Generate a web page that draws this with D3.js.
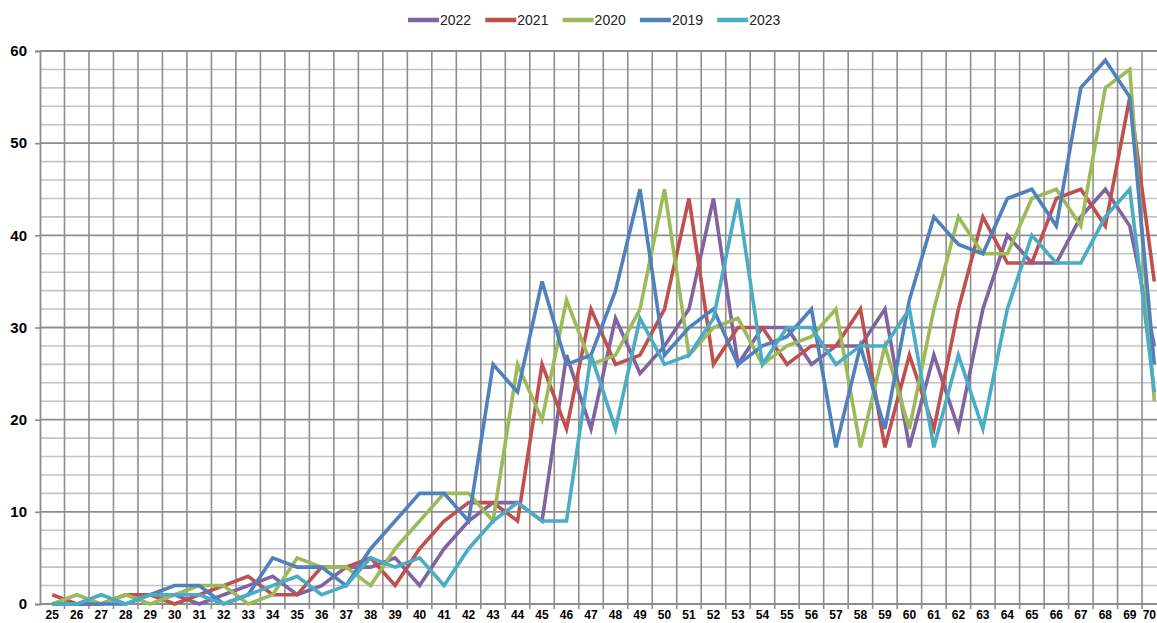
<!DOCTYPE html>
<html>
<head>
<meta charset="utf-8">
<script src="https://cdn.jsdelivr.net/npm/d3@7"></script>
<style>
  html, body { margin: 0; padding: 0; background: #fff; }
  svg { display: block; }
</style>
</head>
<body>
<svg id="chart" width="1157" height="623"></svg>
<script>
// Age categories on the x axis
const categories = [25,26,27,28,29,30,31,32,33,34,35,36,37,38,39,40,41,42,43,44,45,46,47,
                    48,49,50,51,52,53,54,55,56,57,58,59,60,61,62,63,64,65,66,67,68,69,70];

// Values per year
const values2022 = [0,0,0,1,1,1,0,1,2,3,1,2,4,4,5,2,6,9,11,11,9,27,19,31,25,28,32,44,26,30,30,26,28,28,32,17,27,19,32,40,37,37,42,45,41,28];
const values2021 = [1,0,0,1,1,0,1,2,3,1,1,4,4,5,2,6,9,11,11,9,26,19,32,26,27,32,44,26,30,30,26,28,28,32,17,27,19,32,42,37,37,44,45,41,55,35];
const values2020 = [0,1,0,1,0,1,2,2,0,1,5,4,4,2,6,9,12,12,9,26,20,33,26,27,32,45,27,30,31,26,28,29,32,17,28,19,32,42,38,38,44,45,41,56,58,22];
const values2019 = [0,0,0,0,1,2,2,0,1,5,4,4,2,6,9,12,12,9,26,23,35,26,27,34,45,27,30,32,26,28,29,32,17,28,19,33,42,39,38,44,45,41,56,59,55,26];
const values2023 = [0,0,1,0,1,1,1,0,1,2,3,1,2,5,4,5,2,6,9,11,9,9,27,19,31,26,27,31,44,26,30,30,26,28,28,32,17,27,19,32,40,37,37,42,45,23];

const seriesNames = ["2022","2021","2020","2019","2023"];
const seriesValues = [values2022, values2021, values2020, values2019, values2023];
const seriesColors = ["#8064A2","#C0504D","#9BBB59","#4F81BD","#4BACC6"];

const yTicks = [0,10,20,30,40,50,60];
const yMinor = [2,4,6,8,12,14,16,18,22,24,26,28,32,34,36,38,42,44,46,48,52,54,56,58];

const W = 1157;
const svg = d3.select("#chart");
const plotLeft = 40, plotTop = 51, plotBottom = 604;
const step = 24.49;
const plotRight = plotLeft + step * categories.length;

const x = d3.scaleBand().domain(categories).range([plotLeft, plotRight]).padding(0);
const y = d3.scaleLinear().domain([0, 60]).range([plotBottom, plotTop]);
const cx = c => x(c) + x.bandwidth() / 2;

const grid = svg.append("g");

// minor horizontal grid
grid.selectAll("line.minor").data(yMinor).enter().append("line")
  .attr("x1", plotLeft).attr("x2", W)
  .attr("y1", d => y(d)).attr("y2", d => y(d))
  .attr("stroke", "#c4c4c4").attr("stroke-width", 1.6);

// vertical grid at category boundaries, with ticks below the axis
grid.selectAll("line.v").data(categories.slice(1)).enter().append("line")
  .attr("x1", d => x(d)).attr("x2", d => x(d))
  .attr("y1", plotTop).attr("y2", plotBottom + 5)
  .attr("stroke", "#8e8e8e").attr("stroke-width", 1.6);

// major horizontal grid
grid.selectAll("line.major").data(yTicks).enter().append("line")
  .attr("x1", plotLeft).attr("x2", W)
  .attr("y1", d => y(d)).attr("y2", d => y(d))
  .attr("stroke", "#8e8e8e").attr("stroke-width", 1.8);

// y axis
const yAxis = svg.append("g")
  .attr("transform", `translate(${plotLeft},0)`)
  .call(d3.axisLeft(y).tickValues(yTicks).tickSize(5).tickPadding(8).tickFormat(d3.format("d")));
yAxis.select(".domain").attr("stroke", "#8e8e8e").attr("stroke-width", 1.8);
yAxis.selectAll(".tick line").attr("stroke", "#8e8e8e").attr("stroke-width", 1.6);
yAxis.selectAll(".tick text")
  .attr("font-family", "'Liberation Sans', Arial, sans-serif")
  .attr("font-weight", "bold").attr("font-size", 15).attr("fill", "#000");

// x axis
const xAxis = svg.append("g")
  .attr("transform", `translate(0,${plotBottom})`)
  .call(d3.axisBottom(x).tickSize(0).tickPadding(6));
xAxis.select(".domain").remove();
xAxis.selectAll(".tick text")
  .attr("font-family", "'Liberation Sans', Arial, sans-serif")
  .attr("font-weight", "bold").attr("font-size", 12).attr("fill", "#000");
// keep the last category label inside the drawing area
xAxis.selectAll(".tick").filter(d => d === categories[categories.length - 1])
  .select("text").attr("text-anchor", "end").attr("x", W - 1 - cx(categories[categories.length - 1]));
svg.append("line").attr("x1", plotLeft).attr("x2", W).attr("y1", plotBottom).attr("y2", plotBottom)
  .attr("stroke", "#8e8e8e").attr("stroke-width", 1.8);

// series lines
const line = d3.line().x((d, i) => cx(categories[i])).y(d => y(d));
seriesValues.forEach((vals, k) => {
  svg.append("path")
    .datum(vals)
    .attr("d", line)
    .attr("fill", "none")
    .attr("stroke", seriesColors[k])
    .attr("stroke-width", 3.6)
    .attr("stroke-linejoin", "miter");
});

// legend
const legend = svg.append("g");
const legendStart = 408, legendStep = 77.3, legendY = 20;
seriesNames.forEach((name, k) => {
  const gx = legendStart + k * legendStep;
  legend.append("line")
    .attr("x1", gx).attr("x2", gx + 31)
    .attr("y1", legendY).attr("y2", legendY)
    .attr("stroke", seriesColors[k]).attr("stroke-width", 4.5);
  legend.append("text")
    .attr("x", gx + 32).attr("y", legendY + 5)
    .attr("font-family", "'Liberation Sans', Arial, sans-serif")
    .attr("font-size", 14).attr("fill", "#222")
    .text(name);
});
</script>
</body>
</html>
